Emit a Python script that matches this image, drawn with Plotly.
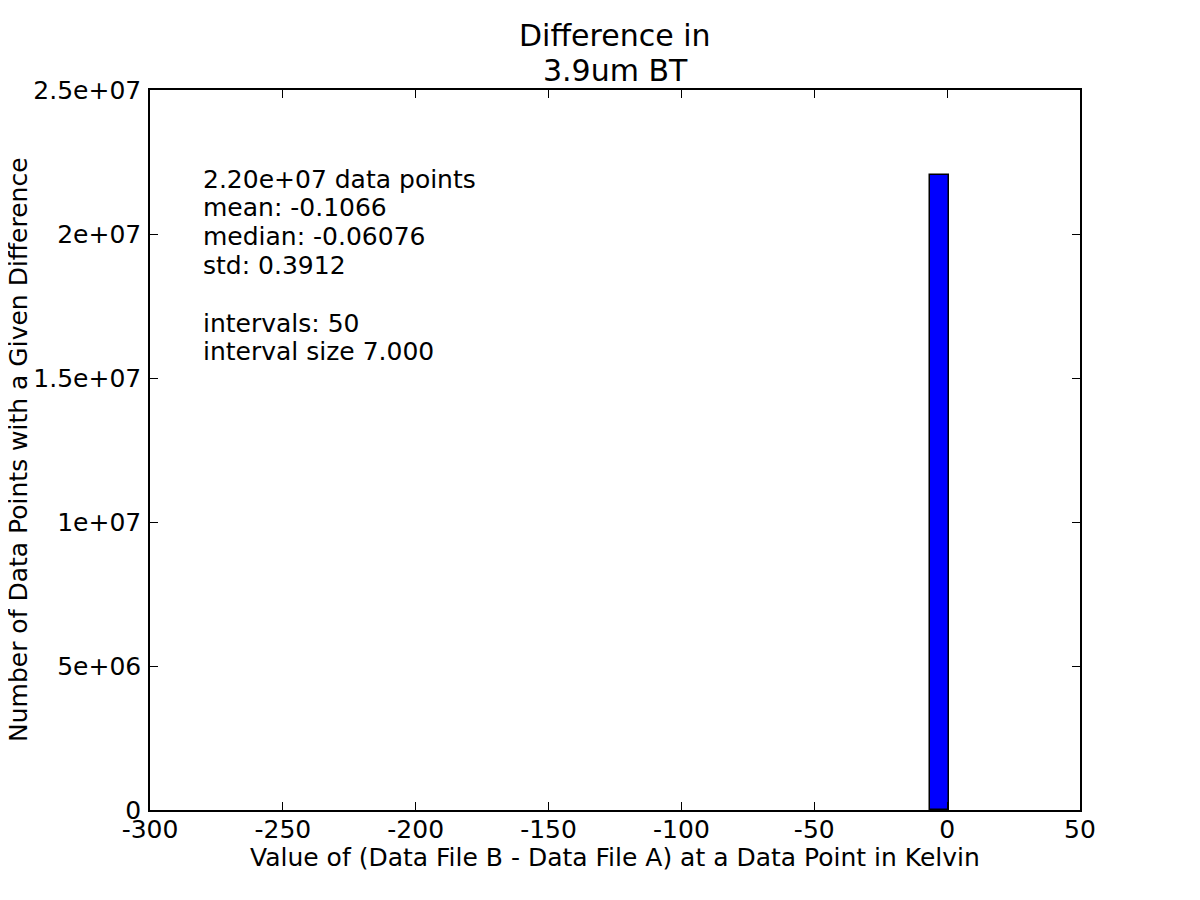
import plotly.graph_objects as go

# ---- data ----
bin_start = -293.4
bin_size = 7.0
n_bins = 50
counts = [0] * 41 + [22050000] + [0] * 8
x_tick_vals = [-300, -250, -200, -150, -100, -50, 0, 50]
x_tick_text = ["-300", "-250", "-200", "-150", "-100", "-50", "0", "50"]
y_tick_vals = [0, 5e6, 1e7, 1.5e7, 2e7, 2.5e7]
y_tick_text = ["0", "5e+06", "1e+07", "1.5e+07", "2e+07", "2.5e+07"]
stats_lines = [
    "2.20e+07 data points",
    "mean: -0.1066",
    "median: -0.06076",
    "std: 0.3912",
    "",
    "intervals: 50",
    "interval size 7.000",
]
title_lines = ["Difference in", "3.9um BT"]
x_label = "Value of (Data File B - Data File A) at a Data Point in Kelvin"
y_label = "Number of Data Points with a Given Difference"

centers = [bin_start + bin_size * (i + 0.5) for i in range(n_bins)]
edge_widths = [1.5 if c > 0 else 0 for c in counts]

FONT = "DejaVu Sans"
OFF = 8  # page body margin

fig = go.Figure()
fig.add_trace(go.Bar(
    x=centers, y=counts, width=[bin_size] * n_bins,
    marker=dict(color="#0000ff", line=dict(color="black", width=edge_widths)),
    showlegend=False,
))

W, H = 1200 - 2 * OFF, 900 - 2 * OFF
L, T = 150 - OFF, 90 - OFF
R = W - (1080 - OFF)
B = H - (810 - OFF)
plot_h = H - T - B
plot_w = W - L - R


def px(xs):
    return (xs - OFF - L) / plot_w


def py(ys):
    return (H - B - (ys - OFF)) / plot_h


annotations = []
line_gap = 28.8
first_center = 179
for i, line in enumerate(stats_lines):
    if not line:
        continue
    annotations.append(dict(
        text=line, xref="paper", yref="paper",
        x=px(201), y=py(first_center + i * line_gap),
        xanchor="left", yanchor="middle", showarrow=False,
        font=dict(family=FONT, size=25, color="black"),
    ))
for i, line in enumerate(title_lines):
    annotations.append(dict(
        text=line, xref="paper", yref="paper",
        x=0.5, y=py(35 + i * 35),
        xanchor="center", yanchor="middle", showarrow=False,
        font=dict(family=FONT, size=30, color="black"),
    ))
annotations.append(dict(
    text=x_label, xref="paper", yref="paper", x=0.5, y=py(857),
    xanchor="center", yanchor="middle", showarrow=False,
    font=dict(family=FONT, size=25, color="black"),
))
annotations.append(dict(
    text=y_label, xref="paper", yref="paper", x=px(18), y=py(450),
    xanchor="center", yanchor="middle", showarrow=False, textangle=-90,
    font=dict(family=FONT, size=25, color="black"),
))

axis_common = dict(
    showline=True, linecolor="black", linewidth=1.5, mirror="allticks",
    ticks="inside", ticklen=8, tickwidth=1, tickcolor="black",
    showgrid=False, zeroline=False, automargin=False,
    tickfont=dict(family=FONT, size=25, color="black"),
)

fig.update_layout(
    width=W, height=H,
    margin=dict(l=L, r=R, t=T, b=B, pad=0),
    paper_bgcolor="white", plot_bgcolor="white",
    font=dict(family=FONT, color="black"),
    bargap=0,
    annotations=annotations,
    xaxis=dict(
        range=[-300, 50], tickvals=x_tick_vals, ticktext=x_tick_text,
        ticklabelstandoff=-4,
        **axis_common,
    ),
    yaxis=dict(
        range=[0, 2.5e7], tickvals=y_tick_vals, ticktext=y_tick_text,
        ticklabelstandoff=2,
        **axis_common,
    ),
)

fig.write_html("out.html")
